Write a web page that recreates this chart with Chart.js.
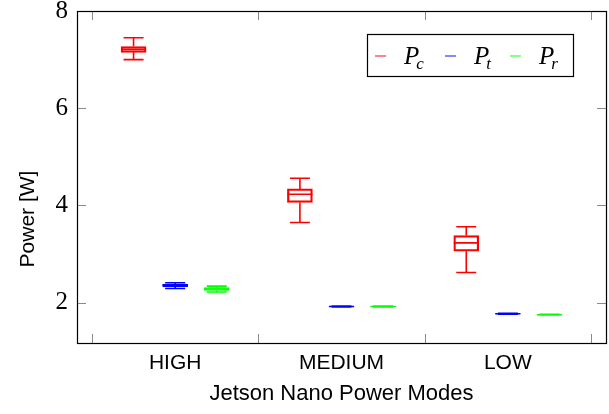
<!DOCTYPE html>
<html><head><meta charset="utf-8">
<script src="https://cdn.jsdelivr.net/npm/chart.js@4.4.1/dist/chart.umd.min.js"></script>
<style>html,body{margin:0;padding:0;background:#fff}#wrap{width:609px;height:414px}</style>
</head><body><div id="wrap"><canvas id="c" width="609" height="414"></canvas></div>
<script>
// ---- data ----
const modes = ['HIGH', 'MEDIUM', 'LOW'];
const modePositions = [2, 6, 10];
const seriesSub = ['c', 't', 'r'];            // P_c, P_t, P_r
const seriesColors = ['#ff0000', '#0000ff', '#00ff00'];
const seriesOffsets = [-1, 0, 1];
// [min, q1, median, q3, max] per mode
const pcStats = [[7.00, 7.15, 7.21, 7.27, 7.45], [3.65, 4.06, 4.23, 4.34, 4.56], [2.62, 3.06, 3.23, 3.38, 3.56]];
const ptStats = [[2.29, 2.33, 2.36, 2.38, 2.41], [1.91, 1.915, 1.92, 1.925, 1.93], [1.765, 1.770, 1.772, 1.775, 1.78]];
const prStats = [[2.22, 2.25, 2.28, 2.31, 2.34], [1.91, 1.915, 1.92, 1.925, 1.93], [1.745, 1.750, 1.752, 1.755, 1.76]];
const yTicks = [2, 4, 6, 8];
const xTickMarks = [0, 4, 8, 12];
const yTitle = 'Power [W]';
const xTitle = 'Jetson Nano Power Modes';

const allStats = [pcStats, ptStats, prStats];

const datasets = allStats.map((stats, s) => ({
  label: 'P' + seriesSub[s],
  data: stats.map((st, i) => ({ x: modePositions[i] + seriesOffsets[s], y: [st[1], st[3]], stats: st })),
  backgroundColor: 'rgba(0,0,0,0)',
  borderColor: seriesColors[s],
  borderWidth: 1.6,
  borderSkipped: false,
  barThickness: 25,
  grouped: false
}));

const boxPlugin = {
  id: 'boxExtras',
  afterDatasetsDraw(chart) {
    const ctx = chart.ctx, y = chart.scales.y;
    chart.data.datasets.forEach((ds, di) => {
      const meta = chart.getDatasetMeta(di);
      meta.data.forEach((el, i) => {
        const st = ds.data[i].stats;
        const cx = el.x, hw = el.width / 2, cw = 10;
        ctx.save();
        ctx.strokeStyle = ds.borderColor;
        ctx.lineWidth = 1.6;
        ctx.beginPath();
        ctx.moveTo(cx - hw, y.getPixelForValue(st[2])); ctx.lineTo(cx + hw, y.getPixelForValue(st[2]));
        ctx.moveTo(cx, y.getPixelForValue(st[3])); ctx.lineTo(cx, y.getPixelForValue(st[4]));
        ctx.moveTo(cx, y.getPixelForValue(st[1])); ctx.lineTo(cx, y.getPixelForValue(st[0]));
        ctx.moveTo(cx - cw, y.getPixelForValue(st[4])); ctx.lineTo(cx + cw, y.getPixelForValue(st[4]));
        ctx.moveTo(cx - cw, y.getPixelForValue(st[0])); ctx.lineTo(cx + cw, y.getPixelForValue(st[0]));
        ctx.stroke();
        ctx.restore();
      });
    });
  }
};

const framePlugin = {
  id: 'frame',
  afterDraw(chart) {
    const ctx = chart.ctx, a = chart.chartArea, xs = chart.scales.x, ys = chart.scales.y;
    ctx.save();
    ctx.strokeStyle = '#8a8a8a';
    ctx.lineWidth = 1;
    const tl = 9;
    ctx.beginPath();
    yTicks.forEach(v => {
      const py = Math.round(ys.getPixelForValue(v)) + 0.5;
      ctx.moveTo(a.left, py); ctx.lineTo(a.left + tl, py);
      ctx.moveTo(a.right, py); ctx.lineTo(a.right - tl, py);
    });
    xTickMarks.forEach(v => {
      const px = Math.round(xs.getPixelForValue(v)) + 0.5;
      ctx.moveTo(px, a.bottom); ctx.lineTo(px, a.bottom - tl);
      ctx.moveTo(px, a.top); ctx.lineTo(px, a.top + tl);
    });
    ctx.stroke();
    ctx.strokeStyle = '#000';
    ctx.lineWidth = 1.2;
    ctx.strokeRect(Math.round(a.left) + 0.5, Math.round(a.top) + 0.5, Math.round(a.right - a.left), Math.round(a.bottom - a.top));
    // y title
    ctx.save();
    ctx.translate(28, 219);
    ctx.rotate(-Math.PI / 2);
    ctx.fillStyle = '#000';
    ctx.font = '21px "Liberation Sans", sans-serif';
    ctx.textAlign = 'center';
    ctx.textBaseline = 'middle';
    ctx.fillText(yTitle, 0, 0);
    ctx.restore();
    // legend
    const bx = a.right - 33, bw = 206, by = a.top + 23, bh = 42;
    const left = bx - bw;
    ctx.lineWidth = 1.2;
    ctx.strokeRect(left + 0.5, by + 0.5, bw, bh);
    const cy = by + bh / 2 + 1;
    const entryX = [left + 8, left + 78, left + 143];
    chart.data.datasets.forEach((ds, i) => {
      const ex = entryX[i];
      ctx.strokeStyle = ds.borderColor;
      ctx.globalAlpha = 0.6;
      ctx.lineWidth = 1.6;
      ctx.beginPath(); ctx.moveTo(ex, cy); ctx.lineTo(ex + 11, cy); ctx.stroke();
      ctx.globalAlpha = 1;
      ctx.fillStyle = '#000';
      ctx.textBaseline = 'alphabetic';
      ctx.textAlign = 'left';
      ctx.font = 'italic 25px "Liberation Serif", serif';
      ctx.fillText('P', ex + 29, cy + 8);
      const pw = ctx.measureText('P').width;
      ctx.font = 'italic 17px "Liberation Serif", serif';
      ctx.fillText(seriesSub[i], ex + 29 + pw - 3, cy + 13);
    });
    ctx.restore();
  }
};

new Chart(document.getElementById('c'), {
  type: 'bar',
  data: { datasets },
  options: {
    responsive: false,
    animation: false,
    parsing: { xAxisKey: 'x', yAxisKey: 'y' },
    layout: { padding: { top: 11, right: 3, left: 0, bottom: 0 } },
    plugins: { legend: { display: false }, tooltip: { enabled: false } },
    scales: {
      x: {
        type: 'linear', min: -0.36, max: 12.36, offset: false,
        afterBuildTicks: s => { s.ticks = modePositions.map(v => ({ value: v })); },
        afterFit: s => { s.height = 71; s.paddingLeft = 0; s.paddingRight = 0; },
        ticks: {
          callback: v => modes[modePositions.indexOf(v)],
          color: '#000', padding: 8, maxRotation: 0, autoSkip: false,
          font: { family: '"Liberation Sans", sans-serif', size: 21 }
        },
        grid: { display: false, drawTicks: false, offset: false },
        border: { display: false },
        title: { display: true, text: xTitle, color: '#000',
          font: { family: '"Liberation Sans", sans-serif', size: 22 }, padding: { top: 0, bottom: 7 } }
      },
      y: {
        type: 'linear', min: 1.17, max: 8,
        afterBuildTicks: s => { s.ticks = yTicks.map(v => ({ value: v })); },
        afterFit: s => { s.width = 77; s.paddingTop = 0; s.paddingBottom = 0; },
        ticks: { color: '#000', padding: 9, font: { family: '"Liberation Serif", serif', size: 25 } },
        grid: { display: false, drawTicks: false },
        border: { display: false },
        title: { display: false }
      }
    }
  },
  plugins: [boxPlugin, framePlugin]
});
</script></body></html>
